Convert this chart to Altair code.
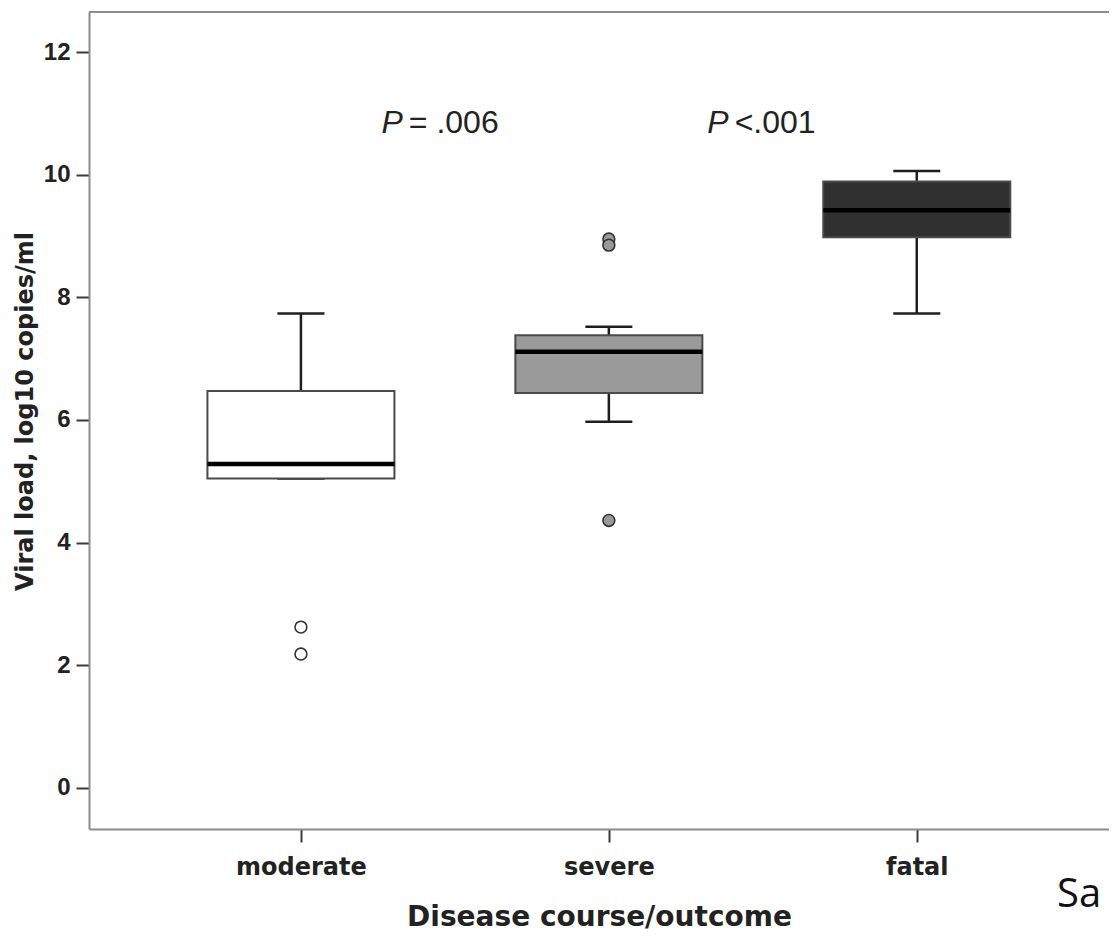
import altair as alt
import pandas as pd

# ---- data ----
categories = ["moderate", "severe", "fatal"]
box_fill = ["#ffffff", "#9a9a9a", "#303030"]
whisker_low = [5.045, 5.97, 7.735]
q1 = [5.045, 6.44, 8.98]
median = [5.28, 7.11, 9.42]
q3 = [6.47, 7.38, 9.89]
whisker_high = [7.735, 7.52, 10.06]

outlier_category = ["moderate", "moderate", "severe", "severe", "severe"]
outlier_value = [2.62, 2.18, 8.95, 8.85, 4.36]

p_symbol = ["P", "P"]
p_rest = ["= .006", "<.001"]
p_x = [0.331, 1.389]
p_y = [10.675, 10.675]

y_ticks = [0, 2, 4, 6, 8, 10, 12]

# ---- tables ----
pos = list(range(len(categories)))
boxes = pd.DataFrame({
    "cat": categories, "pos": pos, "lo": whisker_low, "q1": q1,
    "med": median, "q3": q3, "hi": whisker_high,
})
outliers = pd.DataFrame({
    "cat": outlier_category,
    "pos": [categories.index(c) for c in outlier_category],
    "value": outlier_value,
})
ptext = pd.DataFrame({"pos": p_x, "value": p_y, "sym": p_symbol, "rest": p_rest})

W, H = 1020, 817
xs = alt.Scale(domain=[-0.672, 2.608], nice=False, zero=False)
ys = alt.Scale(domain=[-0.673, 12.653], nice=False, zero=False)
fill_scale = alt.Scale(domain=categories, range=box_fill)

label_expr = "[" + ",".join("'%s'" % c for c in categories) + "][datum.value]"
FRAME = "#8c8c8c"

x_axis = alt.Axis(
    values=pos, labelExpr=label_expr, grid=False,
    domain=True, domainColor=FRAME, domainWidth=2,
    tickSize=13, tickWidth=2, tickColor="#3a3a3a",
    labelFont="DejaVu Sans", labelFontSize=24, labelFontWeight="bold",
    labelColor="#222222", labelBaseline="alphabetic", labelPadding=32,
    labelAngle=0,
    title="Disease course/outcome", titleFont="DejaVu Sans", titleFontSize=28,
    titleFontWeight="bold", titleColor="#222222", titleBaseline="alphabetic",
    titleY=96, titleAlign="center",
)
y_axis = alt.Axis(
    values=y_ticks, grid=False,
    domain=True, domainColor=FRAME, domainWidth=2,
    tickSize=13, tickWidth=2, tickColor="#3a3a3a",
    labelFont="Liberation Sans", labelFontSize=24, labelFontWeight="bold",
    labelColor="#222222", labelPadding=6,
    title="Viral load, log10 copies/ml", titleFont="DejaVu Sans",
    titleFontSize=24, titleFontWeight="bold", titleColor="#222222",
    titleX=-64, titleY=399, titleAngle=270, titleBaseline="middle",
    titleAlign="center",
)

X = alt.X("pos:Q", scale=xs, axis=x_axis)


def Y(field):
    return alt.Y(field, scale=ys, axis=y_axis)


upper_whisker = alt.Chart(boxes).mark_rule(strokeWidth=2.5, color="#1e1e1e").encode(
    x=X, y=Y("q3:Q"), y2="hi")
lower_whisker = alt.Chart(boxes).mark_rule(strokeWidth=2.5, color="#1e1e1e").encode(
    x=X, y=Y("lo:Q"), y2="q1")
cap_hi = alt.Chart(boxes).mark_tick(orient="horizontal", size=47, thickness=2.5,
                                     color="#1e1e1e", opacity=1).encode(
    x=X, y=Y("hi:Q"))
cap_lo = alt.Chart(boxes).mark_tick(orient="horizontal", size=47, thickness=2.5,
                                     color="#1e1e1e", opacity=1).encode(
    x=X, y=Y("lo:Q"))

box = alt.Chart(boxes).mark_bar(size=187, stroke="#4a4a4a", strokeWidth=2,
                                 opacity=1).encode(
    x=X, y=Y("q1:Q"), y2="q3",
    fill=alt.Fill("cat:N", scale=fill_scale, legend=None),
)
med = alt.Chart(boxes).mark_tick(orient="horizontal", size=187, thickness=4.5,
                                  color="#000000", opacity=1).encode(
    x=X, y=Y("med:Q"))

outl = alt.Chart(outliers).mark_point(shape="circle", filled=True, size=140,
                                       stroke="#333333", strokeWidth=1.6,
                                       opacity=1).encode(
    x=X, y=Y("value:Q"),
    fill=alt.Fill("cat:N", scale=fill_scale, legend=None),
)

p_sym = alt.Chart(ptext).mark_text(font="Liberation Sans", fontSize=32,
                                   fontStyle="italic", align="right",
                                   baseline="alphabetic", color="#222222").encode(
    x=X, y=Y("value:Q"), text="sym:N")
p_val = alt.Chart(ptext).mark_text(font="Liberation Sans", fontSize=32,
                                   align="left", baseline="alphabetic", dx=6,
                                   color="#222222").encode(
    x=X, y=Y("value:Q"), text="rest:N")

top_line = alt.Chart(pd.DataFrame({"k": [0]})).mark_rule(
    color=FRAME, strokeWidth=2).encode(
    x=alt.value(0), x2=alt.value(W), y=alt.value(0))

stray = alt.Chart(pd.DataFrame({"t": ["Sa"]})).mark_text(
    font="Open Sans", fontSize=40, align="left", baseline="alphabetic",
    color="#111111").encode(x=alt.value(968), y=alt.value(895), text="t:N")

chart = alt.layer(
    top_line, upper_whisker, lower_whisker, cap_hi, cap_lo, box, med, outl,
    p_sym, p_val, stray
).properties(
    width=W, height=H,
    autosize=alt.AutoSizeParams(type="none"),
    padding={"left": 81, "top": 4, "right": 0, "bottom": 104},
    background="#ffffff",
).configure_view(
    stroke=None
)

chart.save("out.html", embed_options={"renderer": "svg", "actions": False})
